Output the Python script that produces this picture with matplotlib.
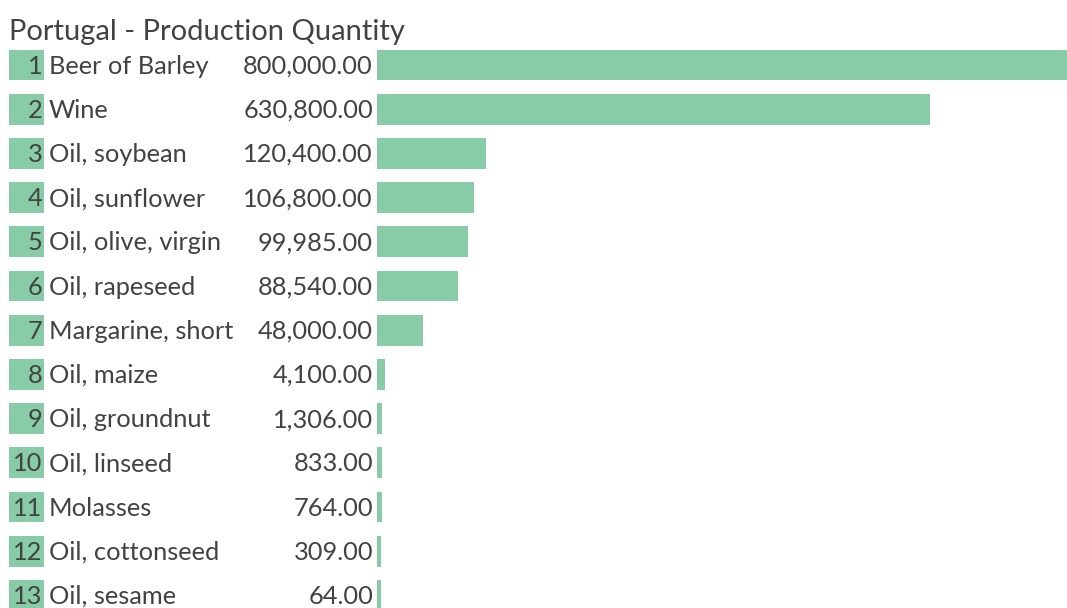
import matplotlib
matplotlib.use("Agg")
import matplotlib.pyplot as plt

title = "Portugal - Production Quantity"
items = ["Beer of Barley", "Wine", "Oil, soybean", "Oil, sunflower",
         "Oil, olive, virgin", "Oil, rapeseed", "Margarine, short",
         "Oil, maize", "Oil, groundnut", "Oil, linseed", "Molasses",
         "Oil, cottonseed", "Oil, sesame"]
quantity = [800000, 630800, 120400, 106800, 99985, 88540, 48000,
            4100, 1306, 833, 764, 309, 64]

green = "#88cca7"
text_col = "#424242"
font = "Lato"
fs = 18.3

W, H = 1067, 608
fig = plt.figure(figsize=(W / 100, H / 100), dpi=100)

# rows: centre of first row at 65px, 44.2px apart
row0, step = 65, 44.2
ytop = (0 - row0) / step
ybot = (H - row0) / step
bar_x0 = 377

ax_l = fig.add_axes([0, 0, bar_x0 / W, 1])
ax_r = fig.add_axes([bar_x0 / W, 0, 1 - bar_x0 / W, 1])
for ax in (ax_l, ax_r):
    ax.set_ylim(ybot, ytop)
    ax.axis("off")

rows = list(range(len(items)))

# rank boxes and text columns
ax_l.set_xlim(0, bar_x0)
ax_l.barh(rows, [35] * len(rows), left=9, height=0.7, color=green)
for i, (name, q) in enumerate(zip(items, quantity)):
    ax_l.text(42.5, i - 0.02, str(i + 1), ha="right", va="center_baseline",
              fontsize=fs, color=text_col, family=font)
    ax_l.text(49, i - 0.02, name, ha="left", va="center_baseline",
              fontsize=fs, color=text_col, family=font)
    ax_l.text(373, i - 0.02, f"{q:,.2f}", ha="right", va="center_baseline",
              fontsize=fs, color=text_col, family=font)
ax_l.text(9, -0.8, title, ha="left", va="center_baseline",
          fontsize=21, color=text_col, family=font)

# bars get a small minimum stub so tiny values stay visible
stub = 4600
ax_r.set_xlim(0, 793000)
ax_r.barh(rows, [q + stub for q in quantity], left=0, height=0.7,
          color=green)

fig.savefig("out.png", dpi=100)
